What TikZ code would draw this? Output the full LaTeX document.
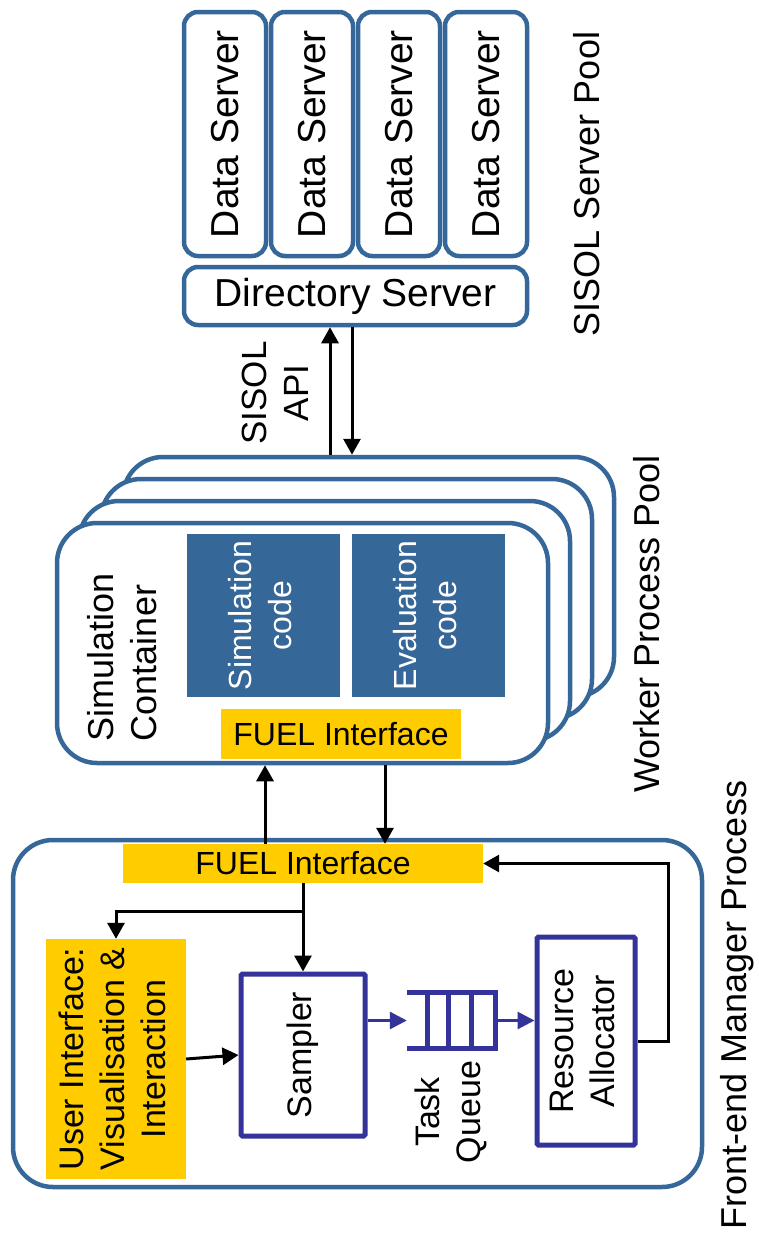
\documentclass[tikz,border=0pt]{standalone}
\usepackage{fontspec}
\setmainfont{Liberation Sans}
\usepackage{graphicx}
\usetikzlibrary{arrows.meta}
\definecolor{steel}{RGB}{54,103,153}
\definecolor{gold}{RGB}{255,204,0}
\definecolor{indigo}{RGB}{51,51,153}
\newcommand{\vlbl}[2][c]{\rotatebox{90}{\begin{tabular}{@{}#1@{}}#2\end{tabular}}}

\begin{document}
\begin{tikzpicture}[x=1pt, y=-1pt]
\tikzstyle{serverbox}=[draw=steel, line width=4.5pt, rounded corners=14pt, fill=white, inner sep=0pt, font=\fontsize{39}{46}\selectfont]
\tikzstyle{workerbox}=[draw=steel, line width=4.5pt, rounded corners=40pt, fill=white, minimum width=491pt, minimum height=240pt]
\tikzstyle{codebox}=[fill=steel, text=white, minimum width=153pt, minimum height=163pt, inner sep=0pt, font=\fontsize{32}{40}\selectfont]
\tikzstyle{fuelbox}=[fill=gold, inner sep=0pt, font=\fontsize{32}{38}\selectfont]
\tikzstyle{procbox}=[draw=indigo, line width=5pt, rounded corners=1.5pt, fill=white, inner sep=0pt, font=\fontsize{34}{41}\selectfont]
\tikzstyle{poollabel}=[rotate=90, inner sep=0pt, font=\fontsize{36}{43}\selectfont]
\tikzstyle{arr}=[line width=3pt, -{Triangle[length=16pt,width=17pt]}]
\tikzstyle{qarr}=[indigo, line width=3pt, -{Triangle[length=17pt,width=17pt]}]
\tikzstyle{qline}=[indigo, line width=5pt]
\useasboundingbox (0,0) rectangle (758,1237);

% SISOL server pool
\foreach \i/\x in {1/225,2/312,3/399,4/486}
  \node[serverbox, minimum width=82pt, minimum height=244pt] (ds\i) at (\x,134) {\rotatebox{90}{Data Server}};
\node[serverbox, minimum width=343pt, minimum height=58pt] (dir) at (355.5,296) {Directory Server};
\node[poollabel] (sisolpool) at (587,184) {SISOL Server Pool};

% worker process pool
\node[workerbox] (w4) at (368.5,577) {};
\node[workerbox] (w3) at (346.5,599) {};
\node[workerbox] (w2) at (324.5,621) {};
\node[workerbox] (worker) at (302.5,643) {};
\node[codebox] (simcode) at (263.5,615.5) {\vlbl{Simulation\\code}};
\node[codebox] (evalcode) at (428.5,615.5) {\vlbl{Evaluation\\code}};
\node[fuelbox, minimum width=240pt, minimum height=50pt] (wfuel) at (341,734) {FUEL Interface};
\node[poollabel, align=left] (container) at (122,657) {Simulation\\Container};
\node[poollabel] (workerpool) at (647,624) {Worker Process Pool};

\node[poollabel, font=\fontsize{35}{42}\selectfont, align=center] (api) at (275,393) {SISOL\\API};
\draw[arr] ([xshift=-25.5pt]dir.south |- w4.north) -- ([xshift=-25.5pt]dir.south);
\draw[arr] ([xshift=-3.5pt]dir.south) -- ([xshift=-3.5pt]dir.south |- w4.north);

% front-end manager
\node[workerbox, minimum width=689pt, minimum height=347pt] (frontend) at (357.5,1013.5) {};
\node[fuelbox, minimum width=360pt, minimum height=39pt] (ffuel) at (303,863.5) {FUEL Interface};
\node[fuelbox, minimum width=140pt, minimum height=240pt, font=\fontsize{34}{41}\selectfont] (ui) at (116,1059) {\vlbl{User Interface:\\Visualisation \&\\Interaction}};
\node[procbox, minimum width=124pt, minimum height=162pt] (sampler) at (303,1055) {\rotatebox{90}{Sampler}};
\node[minimum width=88pt, minimum height=55pt, inner sep=0pt] (queue) at (451,1020.5) {};
\node[poollabel, font=\fontsize{34}{41}\selectfont, align=center] (tasklbl) at (451,1112) {Task\\Queue};
\node[procbox, minimum width=98pt, minimum height=208pt] (alloc) at (586,1041) {\vlbl{Resource\\Allocator}};
\node[poollabel] (fepool) at (737,1005) {Front-end Manager Process};

\draw[qline] (queue.north west) -- (queue.north east) -- (queue.south east) -- (queue.south west);
\foreach \dx in {21,42,65}
  \draw[qline] ([xshift=\dx pt]queue.north west) -- ([xshift=\dx pt]queue.south west);

\draw[arr] ([xshift=-38pt]ffuel.north) -- ([xshift=-38pt]ffuel.north |- worker.south);
\draw[arr] ([xshift=82pt]ffuel.north |- worker.south) -- ([xshift=82pt]ffuel.north);
\draw[arr] (ffuel.south) -- (sampler.north);
\coordinate (split) at (303,911);
\draw[arr] (split) -| (ui.north);
\draw[arr] (ui.east) -- (sampler.west);
\draw[qarr] (sampler.east |- queue.west) -- (queue.west);
\draw[qarr] (queue.east) -- (queue.east -| alloc.west);
\draw[arr] (alloc.east) -- ++(31,0) |- (ffuel.east);
\end{tikzpicture}
\end{document}
